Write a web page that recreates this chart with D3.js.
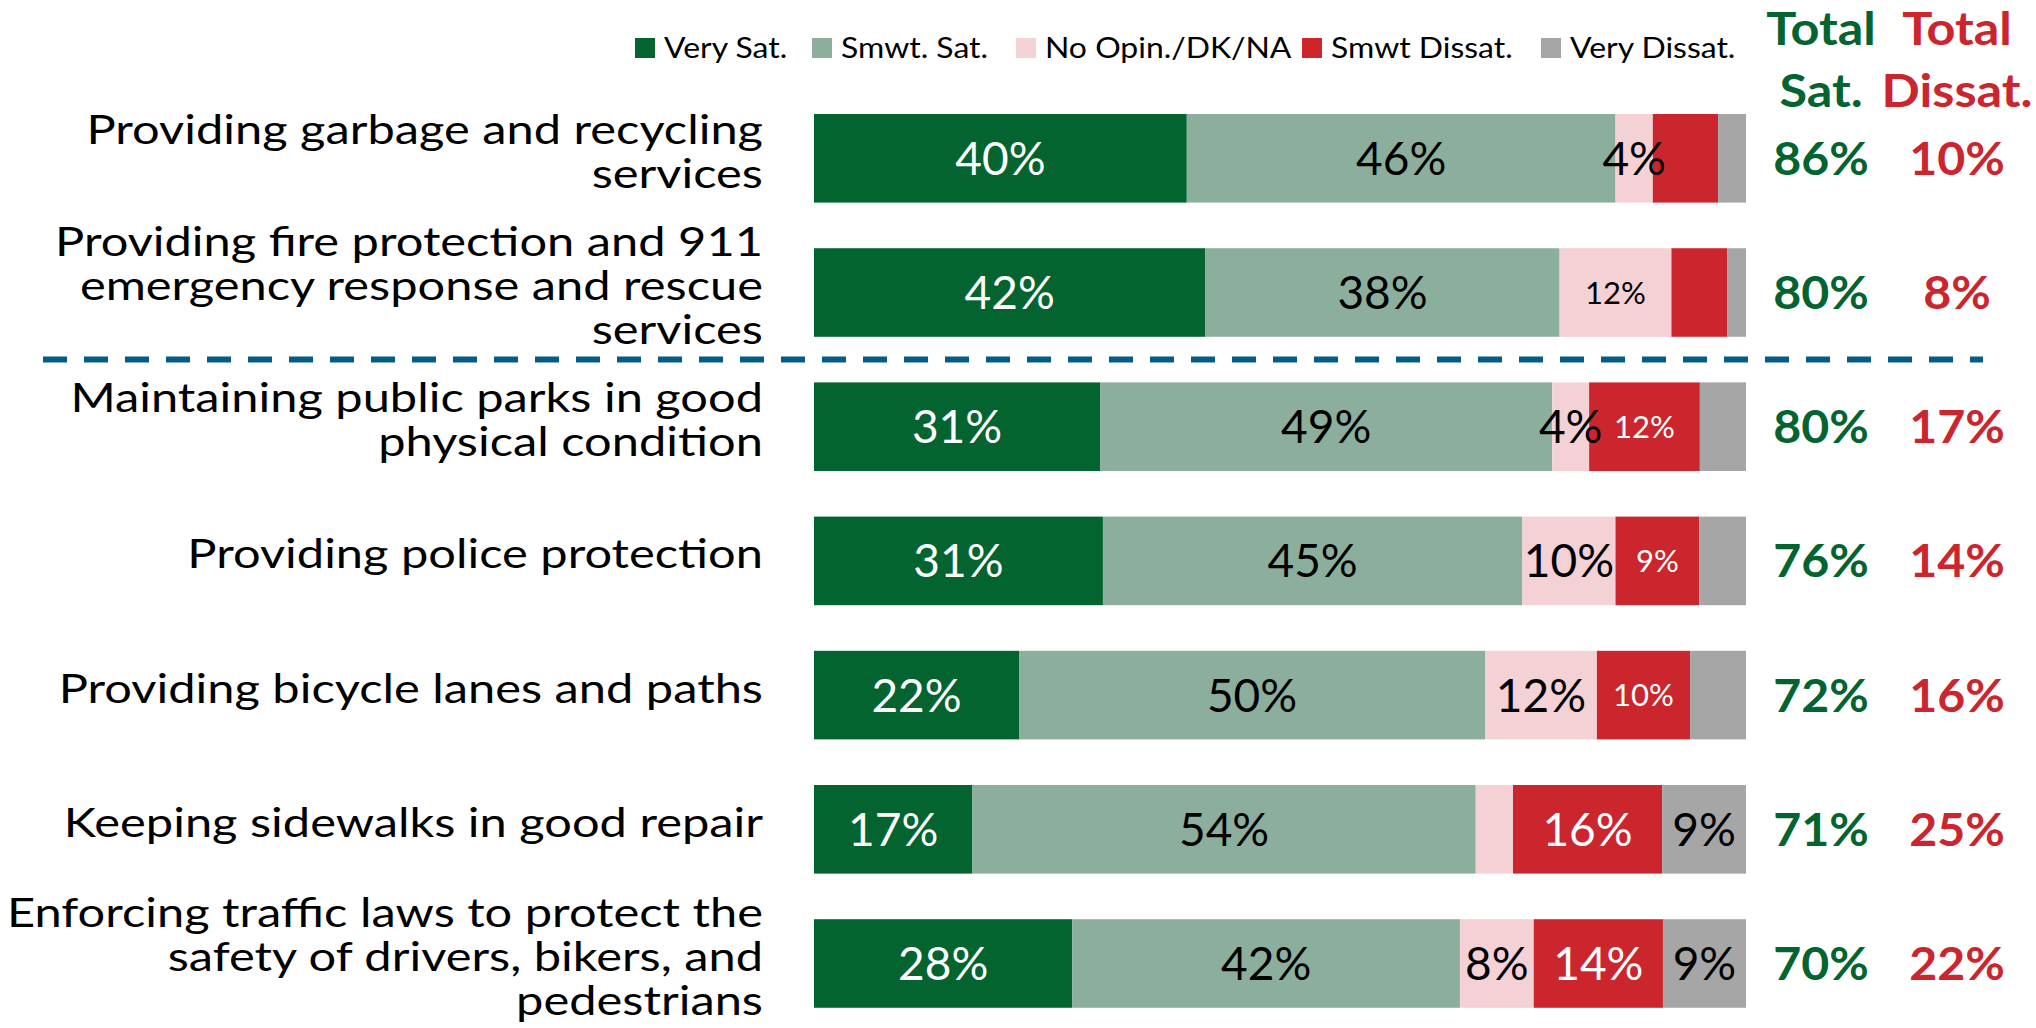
<!DOCTYPE html>
<html><head><meta charset="utf-8">
<script src="https://cdn.jsdelivr.net/npm/d3@7"></script>
<style>body{margin:0;background:#fff;} svg{display:block;font-family:Lato,"Open Sans",sans-serif;}</style>
</head><body>
<svg id="chart" width="2036" height="1028"></svg>
<script>
// ---- data ----
const categories = [
  "Providing garbage and recycling|services",
  "Providing fire protection and 911|emergency response and rescue|services",
  "Maintaining public parks in good|physical condition",
  "Providing police protection",
  "Providing bicycle lanes and paths",
  "Keeping sidewalks in good repair",
  "Enforcing traffic laws to protect the|safety of drivers, bikers, and|pedestrians"
];
const seriesNames = ["Very Sat.", "Smwt. Sat.", "No Opin./DK/NA", "Smwt Dissat.", "Very Dissat."];
const verySat     = [40, 42, 31, 31, 22, 17, 28];
const smwtSat     = [46, 38, 49, 45, 50, 54, 42];
const noOpinion   = [4, 12, 4, 10, 12, 4, 8];
const smwtDissat  = [7, 6, 12, 9, 10, 16, 14];
const veryDissat  = [3, 2, 5, 5, 6, 9, 9];
const totalSat    = [86, 80, 80, 76, 72, 71, 70];
const totalDissat = [10, 8, 17, 14, 16, 25, 22];
// which segment labels are shown (series index per category)
const shownLabels = [
  [0,1,2], [0,1,2], [0,1,2,3], [0,1,2,3], [0,1,2,3], [0,1,3,4], [0,1,2,3,4]
];

// ---- style ----
const colors = ["#03642F", "#8BAF9C", "#F4D1D4", "#CB252E", "#A6A6A6"];
const labelColors = ["#fff", "#000", "#000", "#fff", "#000"];
const smallLabelKeys = new Set(["1-2", "2-3", "3-3", "4-3"]);
const green = "#03642F", red = "#CB252E";

const svg = d3.select("#chart");
const series = [verySat, smwtSat, noOpinion, smwtDissat, veryDissat];

const x = d3.scaleLinear().domain([0, 1]).range([814, 1746]);
const y = d3.scaleBand().domain(d3.range(categories.length)).range([91.2, 1030.6]).paddingInner(0.34).paddingOuter(0.17);

const rows = categories.map((c, i) => {
  const sum = d3.sum(series, s => s[i]);
  let acc = 0;
  const segs = series.map((s, k) => { const seg = {k, i, v: s[i], x0: acc / sum, x1: (acc + s[i]) / sum}; acc += s[i]; return seg; });
  return {i, segs};
});

const gRows = svg.selectAll("g.row").data(rows).join("g").attr("class", "row")
  .attr("transform", d => `translate(0,${y(d.i)})`);

gRows.selectAll("rect").data(d => d.segs).join("rect")
  .attr("x", d => x(d.x0)).attr("width", d => x(d.x1) - x(d.x0))
  .attr("y", 0).attr("height", y.bandwidth())
  .attr("fill", d => colors[d.k]);

gRows.selectAll("text.val").data(d => d.segs.filter(s => shownLabels[d.i].includes(s.k))).join("text")
  .attr("class", "val")
  .attr("x", d => x((d.x0 + d.x1) / 2))
  .attr("y", y.bandwidth() / 2)
  .attr("dy", "0.36em")
  .attr("text-anchor", "middle")
  .attr("font-size", d => smallLabelKeys.has(d.i + "-" + d.k) ? 31 : 46)
  .attr("fill", d => labelColors[d.k])
  .text(d => d.v + "%");

// category labels (horizontally stretched to match the reference's wide face)
const labelX = 763;
gRows.each(function(d) {
  const lines = categories[d.i].split("|");
  const n = lines.length;
  const g = d3.select(this).append("g")
    .attr("transform", `translate(${labelX},${y.bandwidth() / 2 - 7}) scale(1.22,1)`);
  const t = g.append("text").attr("text-anchor", "end").attr("font-size", 40).attr("fill", "#000");
  lines.forEach((ln, j) => {
    t.append("tspan").attr("x", 0)
      .attr("y", (j - (n - 1) / 2) * 44)
      .attr("dy", "0.36em").text(ln);
  });
});

// totals
gRows.append("text").attr("x", 1821).attr("y", y.bandwidth() / 2).attr("dy", "0.36em")
  .attr("text-anchor", "middle").attr("font-size", 46).attr("font-weight", "bold").attr("fill", green)
  .attr("transform", "translate(1821,0) scale(1.05,1) translate(-1821,0)")
  .text(d => totalSat[d.i] + "%");
gRows.append("text").attr("x", 1957).attr("y", y.bandwidth() / 2).attr("dy", "0.36em")
  .attr("text-anchor", "middle").attr("font-size", 46).attr("font-weight", "bold").attr("fill", red)
  .attr("transform", "translate(1957,0) scale(1.05,1) translate(-1957,0)")
  .text(d => totalDissat[d.i] + "%");

// headers
[["Total", "Sat.", 1821, green], ["Total", "Dissat.", 1957, red]].forEach(([a, b, cx, col]) => {
  const g = svg.append("g").attr("transform", `translate(${cx},0) scale(1.12,1)`);
  g.append("text").attr("x", 0).attr("y", 29).attr("dy", "0.36em").attr("text-anchor", "middle")
    .attr("font-size", 45).attr("font-weight", "bold").attr("fill", col).text(a);
  g.append("text").attr("x", 0).attr("y", 91).attr("dy", "0.36em").attr("text-anchor", "middle")
    .attr("font-size", 45).attr("font-weight", "bold").attr("fill", col).text(b);
});

// legend
const legendX = [635, 812, 1016, 1302, 1541];
const lg = svg.selectAll("g.leg").data(seriesNames).join("g").attr("class", "leg")
  .attr("transform", (d, k) => `translate(${legendX[k]},48)`);
lg.append("rect").attr("x", 0).attr("y", -10).attr("width", 20).attr("height", 20).attr("fill", (d, k) => colors[k]);
lg.append("text").attr("transform", "translate(29,0) scale(1.14,1)").attr("dy", "0.36em")
  .attr("font-size", 28).attr("fill", "#000").text(d => d);

// dashed divider
const divY = (y(1) + y.bandwidth() + y(2)) / 2;
svg.append("line").attr("x1", 43).attr("x2", 1983).attr("y1", divY).attr("y2", divY)
  .attr("stroke", "#055D87").attr("stroke-width", 6).attr("stroke-dasharray", "24,17");
</script>
</body></html>
